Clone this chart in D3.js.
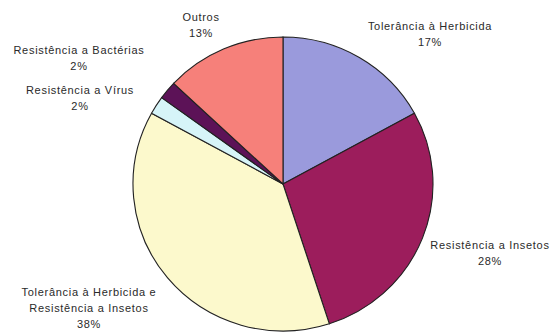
<!DOCTYPE html>
<html><head><meta charset="utf-8">
<script src="https://cdn.jsdelivr.net/npm/d3@7"></script>
<style>body{margin:0;background:#fff}svg{display:block}</style>
</head><body>
<svg id="c" width="553" height="333"></svg>
<script>
const categories = ["Tolerância à Herbicida","Resistência a Insetos","Tolerância à Herbicida e Resistência a Insetos","Resistência a Vírus","Resistência a Bactérias","Outros"];
const values = [17, 28, 38, 2, 2, 13];
const colors = ["#9A9ADC","#9C1D5C","#FCF9CC","#D6F4F8","#5C1257","#F6807A"];
const labelLines = [["Tolerância à Herbicida","17%"],["Resistência a Insetos","28%"],["Tolerância à Herbicida e","Resistência a Insetos","38%"],["Resistência a Vírus","2%"],["Resistência a Bactérias","2%"],["Outros","13%"]];
const labelPos = [[430,26],[490,245],[89,292],[80,90],[79,50],[201,17]];

const svg = d3.select("#c");
const cx = 283, cy = 184, r = 150;
const pie = d3.pie().sort(null).value(d => d)(values);
const arc = d3.arc().innerRadius(0).outerRadius(r);
const g = svg.append("g").attr("transform", `translate(${cx},${cy}) scale(1,0.98)`);
g.selectAll("path").data(pie).join("path")
  .attr("d", arc)
  .attr("fill", (d,i) => colors[i])
  .attr("stroke", "#222")
  .attr("stroke-width", 1.1);

const lg = svg.append("g").attr("font-family","Liberation Sans, Arial, sans-serif")
  .attr("font-size", 11).attr("letter-spacing", "0.7px").attr("fill", "#2a2a2a").attr("text-anchor","middle");
labelLines.forEach((lines, i) => {
  const t = lg.append("text").attr("x", labelPos[i][0]).attr("y", labelPos[i][1] + 4);
  lines.forEach((l, j) => {
    t.append("tspan").attr("x", labelPos[i][0]).attr("dy", j === 0 ? 0 : 16).text(l);
  });
});
</script>
</body></html>
